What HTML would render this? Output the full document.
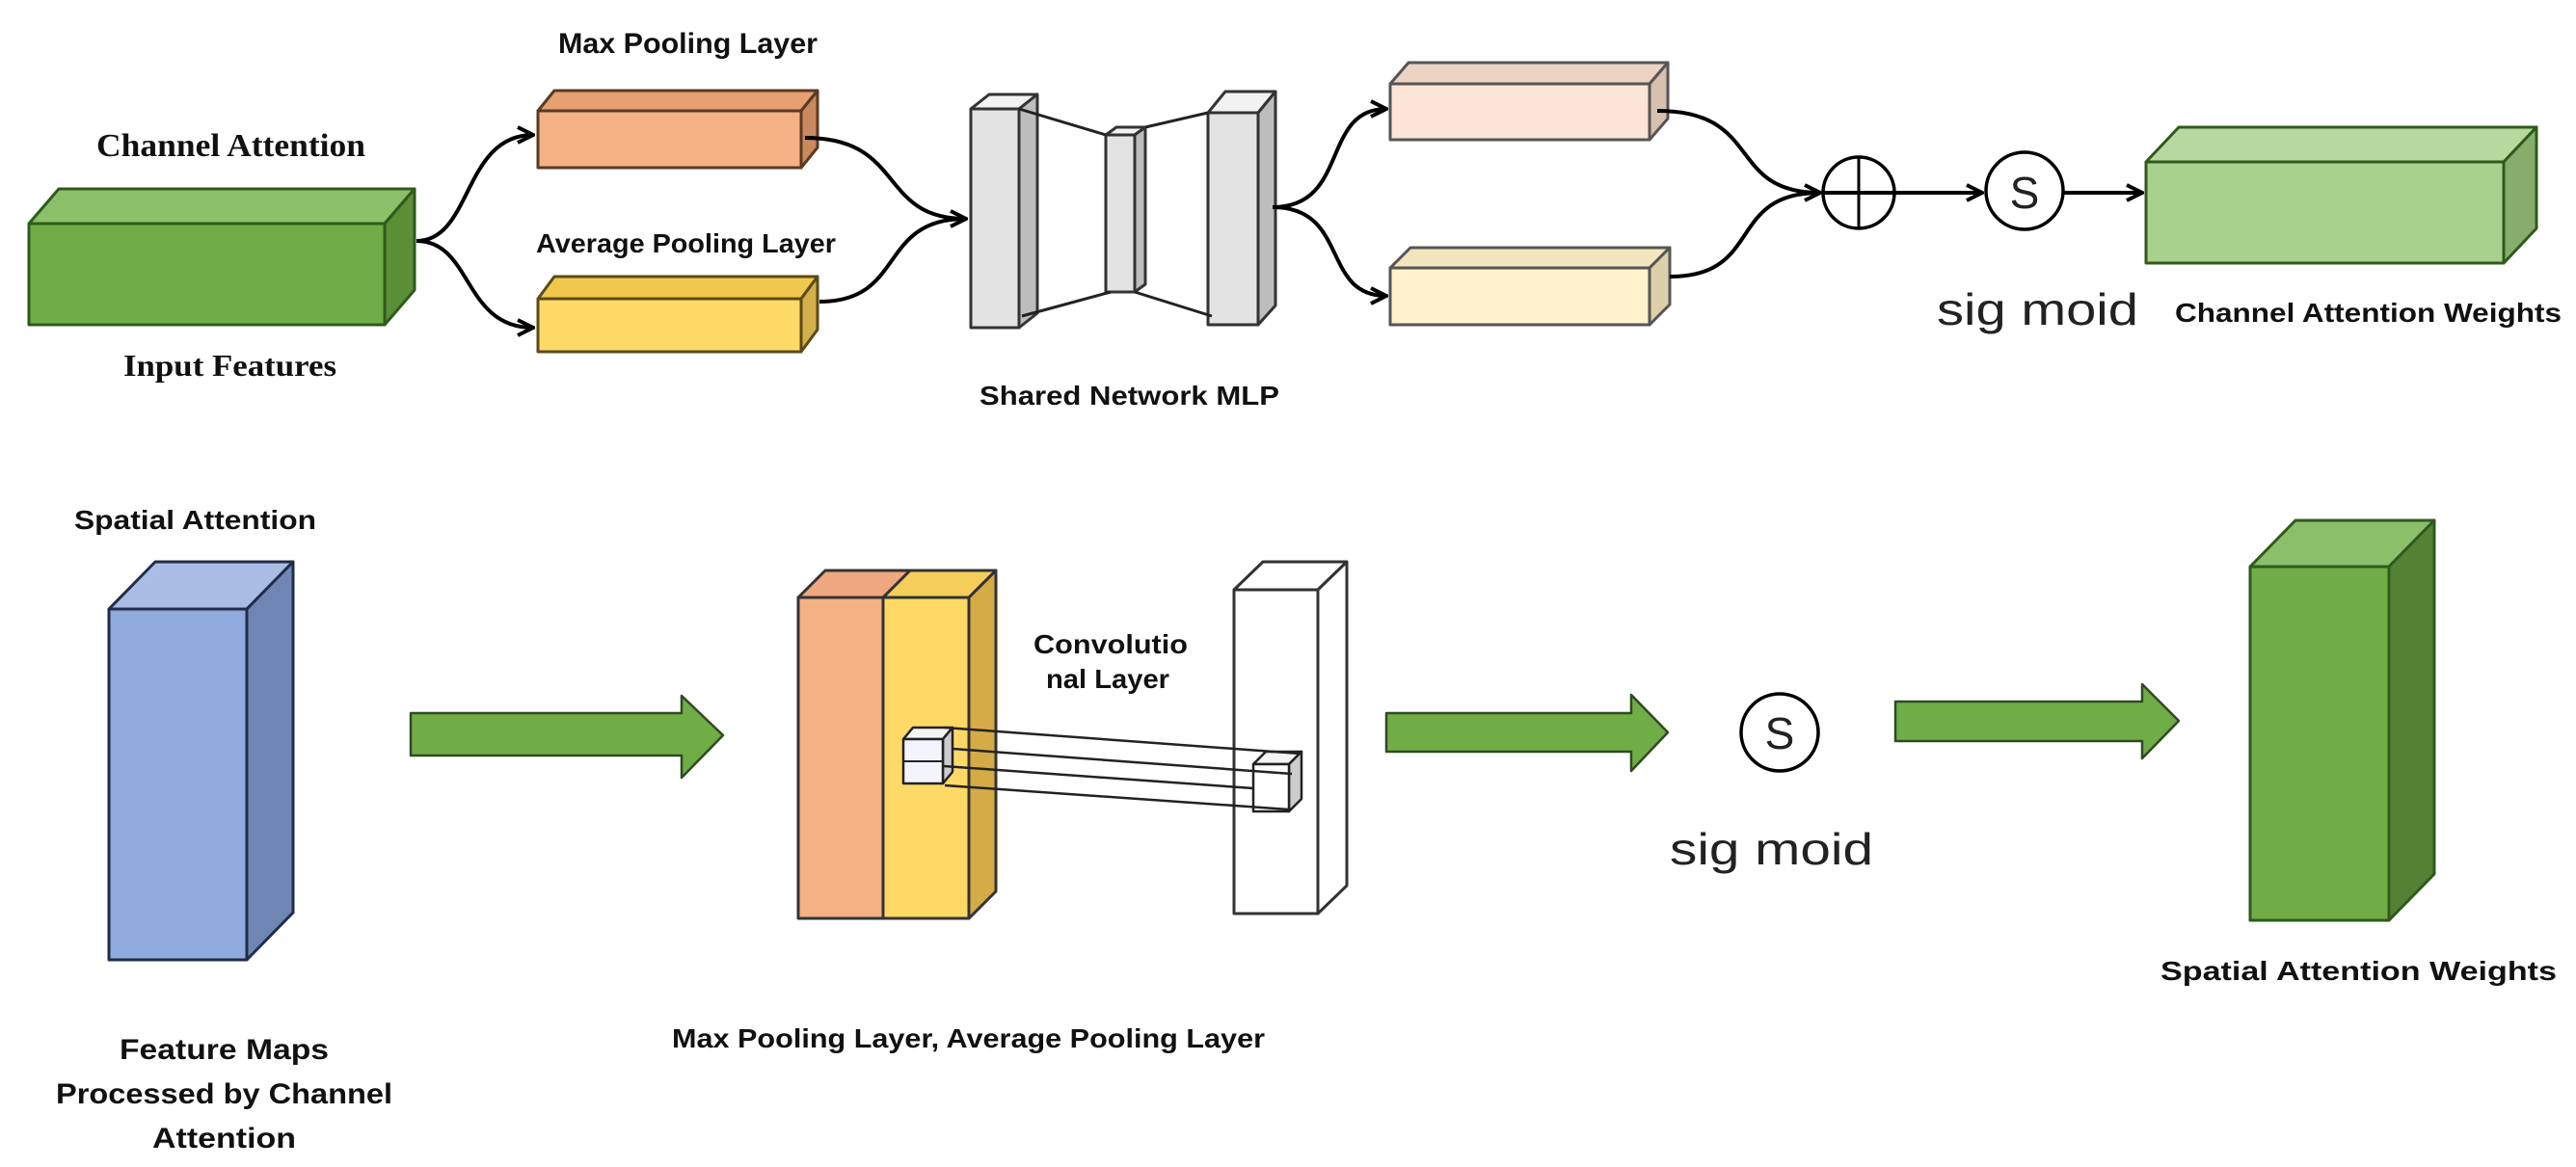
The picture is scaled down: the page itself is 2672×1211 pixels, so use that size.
<!DOCTYPE html>
<html><head><meta charset="utf-8"><style>
html,body{margin:0;padding:0;background:#fff;}
svg{display:block;}
.c{font-family:"Liberation Sans Narrow","Liberation Sans",sans-serif;font-weight:bold;fill:#111;}
.s{font-family:"Liberation Serif",serif;font-weight:bold;fill:#111;}
.r{font-family:"Liberation Sans",sans-serif;fill:#222;}
</style></head><body>
<svg width="2672" height="1211" viewBox="0 0 2672 1211" xmlns="http://www.w3.org/2000/svg">
<defs>
<marker id="ah" viewBox="0 0 10 10" refX="9" refY="5" markerWidth="5" markerHeight="5" orient="auto" markerUnits="strokeWidth">
<path d="M1,1 L9,5 L1,9" fill="none" stroke="#000" stroke-width="2"/>
</marker>
</defs>
<g stroke-linejoin="round">
<!-- green input -->
<polygon points="30,232 61,196 430,196 399,232" fill="#8cbf69" stroke="#2f5a1c" stroke-width="3"/>
<polygon points="399,232 430,196 430,301 399,337" fill="#5a8f37" stroke="#2f5a1c" stroke-width="3"/>
<rect x="30" y="232" width="369" height="105" fill="#70ad47" stroke="#2f5a1c" stroke-width="3"/>
<!-- orange -->
<polygon points="558,115 575,94 848,94 831,115" fill="#e7a071" stroke="#5a3a22" stroke-width="3"/>
<polygon points="831,115 848,94 848,153 831,174" fill="#c98a60" stroke="#5a3a22" stroke-width="3"/>
<rect x="558" y="115" width="273" height="59" fill="#f4b183" stroke="#5a3a22" stroke-width="3"/>
<!-- yellow -->
<polygon points="558,310 575,287 848,287 831,310" fill="#f0c84e" stroke="#5a4a1a" stroke-width="3"/>
<polygon points="831,310 848,287 848,342 831,365" fill="#d4b04a" stroke="#5a4a1a" stroke-width="3"/>
<rect x="558" y="310" width="273" height="55" fill="#ffd966" stroke="#5a4a1a" stroke-width="3"/>
<!-- MLP -->
<polygon points="1007,113 1026,98 1076,98 1057,113" fill="#f2f2f2" stroke="#333" stroke-width="3"/>
<polygon points="1057,113 1076,98 1076,325 1057,340" fill="#bdbdbd" stroke="#333" stroke-width="3"/>
<rect x="1007" y="113" width="50" height="227" fill="#e3e3e3" stroke="#333" stroke-width="3"/>
<polygon points="1147,140 1158,132 1188,132 1177,140" fill="#f2f2f2" stroke="#333" stroke-width="3"/>
<polygon points="1177,140 1188,132 1188,295 1177,303" fill="#bdbdbd" stroke="#333" stroke-width="3"/>
<rect x="1147" y="140" width="30" height="163" fill="#e3e3e3" stroke="#333" stroke-width="3"/>
<polygon points="1253,117 1271,95 1323,95 1305,117" fill="#f2f2f2" stroke="#333" stroke-width="3"/>
<polygon points="1305,117 1323,95 1323,317 1305,337" fill="#bdbdbd" stroke="#333" stroke-width="3"/>
<rect x="1253" y="117" width="52" height="220" fill="#e3e3e3" stroke="#333" stroke-width="3"/>
<g stroke="#222" stroke-width="3">
<line x1="1057" y1="113" x2="1147" y2="140"/><line x1="1188" y1="132" x2="1253" y2="117"/>
<line x1="1060" y1="328" x2="1152" y2="303"/><line x1="1177" y1="303" x2="1257" y2="328"/>
</g>
<!-- pale orange -->
<polygon points="1442,87 1461,65 1730,65 1711,87" fill="#ecd3c2" stroke="#555" stroke-width="3"/>
<polygon points="1711,87 1730,65 1730,123 1711,145" fill="#d8c0ae" stroke="#555" stroke-width="3"/>
<rect x="1442" y="87" width="269" height="58" fill="#fbe5d6" stroke="#555" stroke-width="3"/>
<!-- pale yellow -->
<polygon points="1442,278 1463,257 1732,257 1711,278" fill="#f3e5bd" stroke="#555" stroke-width="3"/>
<polygon points="1711,278 1732,257 1732,316 1711,337" fill="#ddd0a8" stroke="#555" stroke-width="3"/>
<rect x="1442" y="278" width="269" height="59" fill="#fff2cc" stroke="#555" stroke-width="3"/>
<!-- light green -->
<polygon points="2226,168 2260,132 2631,132 2597,168" fill="#b7d9a0" stroke="#2f5a1c" stroke-width="3"/>
<polygon points="2597,168 2631,132 2631,237 2597,273" fill="#86ad6b" stroke="#2f5a1c" stroke-width="3"/>
<rect x="2226" y="168" width="371" height="105" fill="#a9d18e" stroke="#2f5a1c" stroke-width="3"/>
</g>
<!-- curves -->
<g fill="none" stroke="#000" stroke-width="4">
<path d="M432,250 C490,250 480,140 553,140" marker-end="url(#ah)"/>
<path d="M432,250 C490,250 480,340 553,340" marker-end="url(#ah)"/>
<path d="M835,143 C940,143 910,227 1002,227" marker-end="url(#ah)"/>
<path d="M850,313 C940,313 910,227 1002,227"/>
<path d="M1320,215 C1400,215 1370,113 1438,113" marker-end="url(#ah)"/>
<path d="M1320,215 C1400,215 1370,307 1438,307" marker-end="url(#ah)"/>
<path d="M1719,115 C1830,115 1790,200 1888,200" marker-end="url(#ah)"/>
<path d="M1732,287 C1830,287 1790,200 1888,200"/>
<line x1="1891" y1="200" x2="2056" y2="200" marker-end="url(#ah)"/>
<line x1="2140" y1="200" x2="2222" y2="200" marker-end="url(#ah)"/>
<circle cx="1928" cy="200" r="37" stroke-width="3.5"/>
<line x1="1928" y1="163" x2="1928" y2="237" stroke-width="3"/>
<circle cx="2100" cy="198" r="40" stroke-width="3.5"/>
<circle cx="1846" cy="760" r="40" stroke-width="3.5"/>
</g>
<text x="2100" y="216" text-anchor="middle" class="r" font-size="46">S</text>
<text x="1846" y="777" text-anchor="middle" class="r" font-size="46">S</text>

<!-- bottom row -->
<g stroke-linejoin="round">
<polygon points="113,632 161,583 304,583 256,632" fill="#a9bde4" stroke="#1f2d4a" stroke-width="3"/>
<polygon points="256,632 304,583 304,947 256,996" fill="#6f86b4" stroke="#1f2d4a" stroke-width="3"/>
<rect x="113" y="632" width="143" height="364" fill="#8faadc" stroke="#1f2d4a" stroke-width="3"/>

<polygon points="828,620 856,592 944,592 916,620" fill="#f0a880" stroke="#333" stroke-width="3"/>
<rect x="828" y="620" width="88" height="333" fill="#f4b183" stroke="#333" stroke-width="3"/>
<polygon points="916,620 944,592 1033,592 1005,620" fill="#f5cd5a" stroke="#333" stroke-width="3"/>
<polygon points="1005,620 1033,592 1033,925 1005,953" fill="#d4ab45" stroke="#333" stroke-width="3"/>
<rect x="916" y="620" width="89" height="333" fill="#ffd966" stroke="#333" stroke-width="3"/>

<polygon points="1280,612 1310,583 1397,583 1367,612" fill="#fff" stroke="#333" stroke-width="3"/>
<polygon points="1367,612 1397,583 1397,919 1367,948" fill="#fff" stroke="#333" stroke-width="3"/>
<rect x="1280" y="612" width="87" height="336" fill="#fff" stroke="#333" stroke-width="3"/>

<!-- small cubes and lines -->
<polygon points="937,767 947,755 988,755 978,767" fill="#f4f4f4" stroke="#222" stroke-width="2.5"/>
<polygon points="978,767 988,755 988,801 978,813" fill="#ccc" stroke="#222" stroke-width="2.5"/>
<rect x="937" y="767" width="41" height="46" fill="#f4f4ff" stroke="#222" stroke-width="2.5"/>
<line x1="937" y1="790" x2="978" y2="790" stroke="#222" stroke-width="2"/>
<polygon points="1300,793 1313,780 1350,780 1337,793" fill="#f4f4f4" stroke="#222" stroke-width="2.5"/>
<polygon points="1337,793 1350,780 1350,829 1337,842" fill="#ccc" stroke="#222" stroke-width="2.5"/>
<rect x="1300" y="793" width="37" height="49" fill="#fff" stroke="#222" stroke-width="2.5"/>
<g stroke="#222" stroke-width="2.5">
<line x1="980" y1="755" x2="1348" y2="782"/>
<line x1="988" y1="777" x2="1340" y2="803"/>
<line x1="979" y1="795" x2="1300" y2="818"/>
<line x1="980" y1="815" x2="1337" y2="840"/>
</g>

<polygon points="2334,588 2381,540 2525,540 2478,588" fill="#8cbf69" stroke="#2f5a1c" stroke-width="3"/>
<polygon points="2478,588 2525,540 2525,907 2478,955" fill="#548235" stroke="#2f5a1c" stroke-width="3"/>
<rect x="2334" y="588" width="144" height="367" fill="#70ad47" stroke="#2f5a1c" stroke-width="3"/>

<!-- block arrows -->
<g fill="#70ad47" stroke="#2f4a22" stroke-width="2.5">
<polygon points="426,740 707,740 707,722 750,763 707,807 707,784 426,784"/>
<polygon points="1438,740 1692,740 1692,721 1730,760 1692,800 1692,780 1438,780"/>
<polygon points="1966,728 2222,728 2222,710 2260,748 2222,787 2222,769 1966,769"/>
</g>
</g>

<!-- texts -->
<text x="100" y="162" class="s" font-size="34" textLength="279" lengthAdjust="spacingAndGlyphs">Channel Attention</text>
<text x="579" y="55" class="c" font-size="30" textLength="269" lengthAdjust="spacingAndGlyphs">Max Pooling Layer</text>
<text x="556" y="262" class="c" font-size="28" textLength="311" lengthAdjust="spacingAndGlyphs">Average Pooling Layer</text>
<text x="128" y="390" class="s" font-size="32" textLength="221" lengthAdjust="spacingAndGlyphs">Input Features</text>
<text x="1016" y="420" class="c" font-size="28" textLength="311" lengthAdjust="spacingAndGlyphs">Shared Network MLP</text>
<text x="2009" y="337" class="r" font-size="46" textLength="209" lengthAdjust="spacingAndGlyphs">sig moid</text>
<text x="2256" y="334" class="c" font-size="28" textLength="401" lengthAdjust="spacingAndGlyphs">Channel Attention Weights</text>

<text x="77" y="549" class="c" font-size="28" textLength="251" lengthAdjust="spacingAndGlyphs">Spatial Attention</text>
<text x="1072" y="678" class="c" font-size="28" textLength="160" lengthAdjust="spacingAndGlyphs">Convolutio</text>
<text x="1085" y="714" class="c" font-size="28" textLength="128" lengthAdjust="spacingAndGlyphs">nal Layer</text>
<text x="124" y="1099" class="c" font-size="30" textLength="217" lengthAdjust="spacingAndGlyphs">Feature Maps</text>
<text x="58" y="1145" class="c" font-size="30" textLength="349" lengthAdjust="spacingAndGlyphs">Processed by Channel</text>
<text x="158" y="1191" class="c" font-size="30" textLength="149" lengthAdjust="spacingAndGlyphs">Attention</text>
<text x="697" y="1087" class="c" font-size="28" textLength="615" lengthAdjust="spacingAndGlyphs">Max Pooling Layer, Average Pooling Layer</text>
<text x="1732" y="897" class="r" font-size="46" textLength="211" lengthAdjust="spacingAndGlyphs">sig moid</text>
<text x="2241" y="1017" class="c" font-size="28" textLength="411" lengthAdjust="spacingAndGlyphs">Spatial Attention Weights</text>
</svg>
</body></html>
